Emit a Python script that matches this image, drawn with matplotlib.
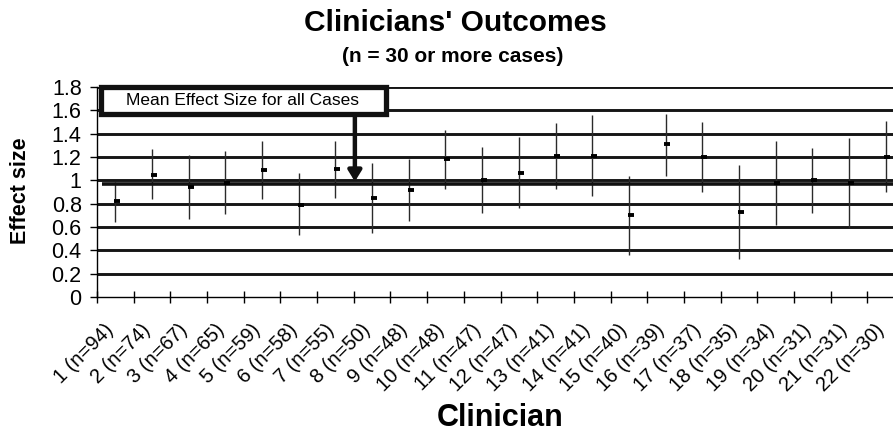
import numpy as np
import matplotlib.pyplot as plt
from matplotlib.patches import Rectangle

plt.rcParams['font.family'] = ['Liberation Sans', 'DejaVu Sans']

# Per-clinician effect sizes with the low/high ends of each interval
clinicians = list(range(1, 23))
cases = [94, 74, 67, 65, 59, 58, 55, 50, 48, 48, 47, 47, 41, 41, 40, 39, 37, 35, 34, 31, 31, 30]
means = [0.82, 1.05, 0.94, 0.98, 1.09, 0.79, 1.10, 0.85, 0.92, 1.18, 1.00,
         1.06, 1.21, 1.21, 0.70, 1.31, 1.20, 0.73, 0.98, 1.00, 0.98, 1.20]
upper = [0.99, 1.27, 1.22, 1.25, 1.34, 1.06, 1.34, 1.15, 1.18, 1.43, 1.29,
         1.37, 1.49, 1.56, 1.04, 1.57, 1.50, 1.13, 1.34, 1.28, 1.36, 1.51]
lower = [0.64, 0.84, 0.67, 0.71, 0.84, 0.53, 0.85, 0.55, 0.65, 0.93, 0.72,
         0.76, 0.93, 0.87, 0.36, 1.04, 0.90, 0.33, 0.62, 0.72, 0.59, 0.90]
overall_mean = 0.97
tick_labels = [f"{c} (n={n})" for c, n in zip(clinicians, cases)]
y_ticks = [0, 0.2, 0.4, 0.6, 0.8, 1.0, 1.2, 1.4, 1.6, 1.8]

fig = plt.figure(figsize=(8.93, 4.33), dpi=100)
# axes run a little past the right edge of the figure
ax = fig.add_axes([97 / 893, 136 / 433, 807 / 893, 210 / 433])
ax.set_xlim(0.5, 22.5)
ax.set_ylim(0, 1.8)

# heavy horizontal rules
for y in y_ticks[1:]:
    ax.axhline(y, color='#151515', lw=2.1, zorder=1)

x = np.array(clinicians)
m = np.array(means)
ax.vlines(x, lower, upper, color='#2a2a2a', lw=1.0, zorder=2)

# overall mean line
ax.plot([0.63, 22.5], [overall_mean, overall_mean], color='#111111', lw=2.6,
        solid_capstyle='butt', zorder=3)

ax.plot(x + 0.05, m, ls='none', marker='_', ms=5, mew=2.8, color='black', zorder=4)

# label box with arrow to the mean line
ax.add_patch(Rectangle((0.62, 1.565), 7.75, 0.235, facecolor='white',
                       edgecolor='#111111', lw=3.8, zorder=5, clip_on=False))
ax.text(4.48, 1.685, 'Mean Effect Size for all Cases', ha='center', va='center',
        fontsize=12.5, zorder=6)
ax.annotate('', xy=(7.53, overall_mean + 0.02), xytext=(7.53, 1.55),
            arrowprops=dict(arrowstyle='-|>,head_length=0.45,head_width=0.28',
                            lw=3.2, color='#111111', shrinkA=0, shrinkB=0,
                            mutation_scale=14),
            zorder=6)

# spines and ticks
for s in ('top', 'right'):
    ax.spines[s].set_visible(False)
ax.spines['left'].set_linewidth(1.0)
ax.spines['bottom'].set_linewidth(1.0)

ax.set_yticks(y_ticks)
ax.set_yticklabels([f"{v:g}" for v in y_ticks], fontsize=15.5)
ax.tick_params(axis='y', direction='out', length=5, width=1, pad=6)

ax.set_xticks(np.arange(0.5, 23, 1))
ax.set_xticklabels([])
ax.tick_params(axis='x', which='major', direction='inout', length=8.5, width=1)
ax.set_xticks(x - 0.3, minor=True)
ax.set_xticklabels(tick_labels, minor=True, fontsize=14.5, rotation=45,
                   ha='right', va='top', rotation_mode='anchor')
ax.tick_params(axis='x', which='minor', length=0, pad=17)

fig.text(455 / 893, 1 - 23 / 433, "Clinicians' Outcomes", ha='center', va='center',
         fontsize=21.5, fontweight='bold')
fig.text(453 / 893, 1 - 57 / 433, "(n = 30 or more cases)", ha='center', va='center',
         fontsize=15, fontweight='bold')
fig.text(21 / 893, 1 - 191 / 433, "Effect size", ha='center', va='center',
         rotation=90, fontsize=15.5, fontweight='bold')
fig.text(500 / 893, 1 - 418 / 433, "Clinician", ha='center', va='center',
         fontsize=22, fontweight='bold')

fig.savefig('out.png', dpi=100, facecolor='white')
